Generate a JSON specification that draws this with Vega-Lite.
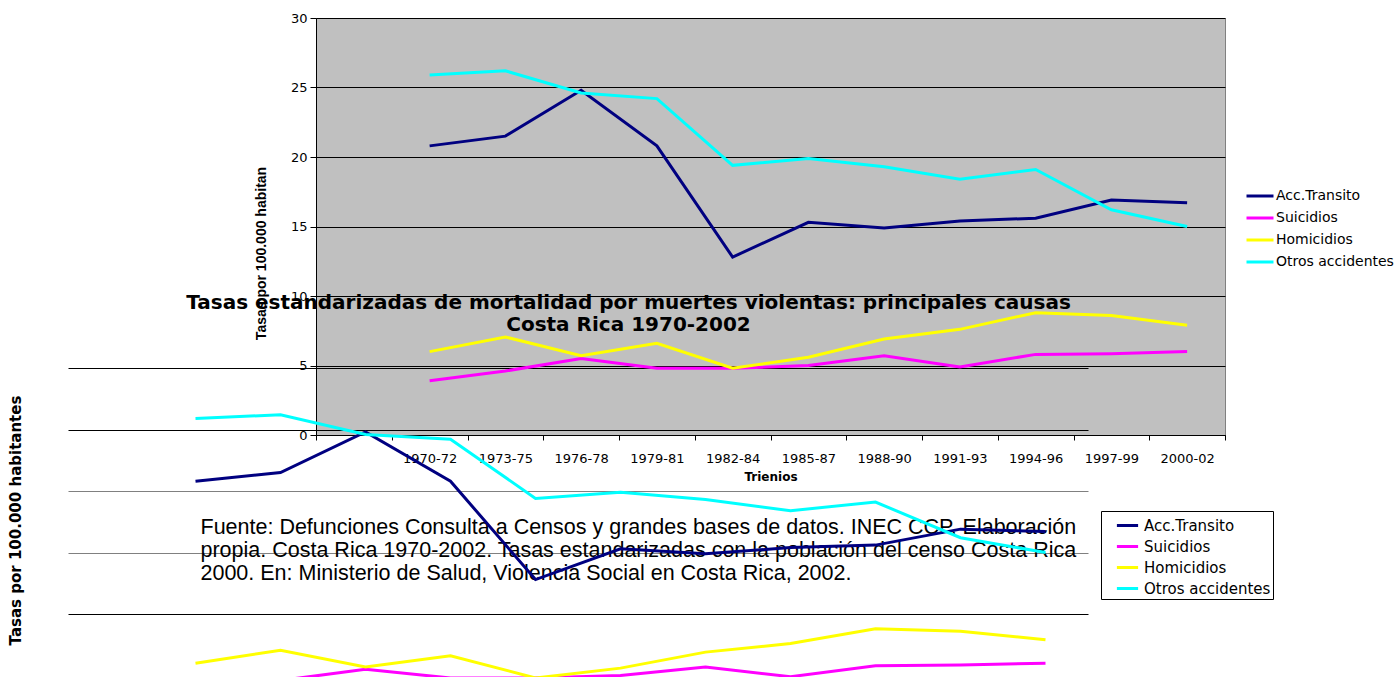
{
  "$schema": "https://vega.github.io/schema/vega-lite/v6.json",
  "width": 909,
  "height": 417,
  "autosize": {"type": "none"},
  "padding": {"left": 316, "top": 18, "right": 175, "bottom": 242},
  "background": "white",
  "title": {
    "text": ["Tasas estandarizadas de mortalidad por muertes violentas: principales causas", "Costa Rica 1970-2002"],
    "anchor": "middle",
    "frame": "group",
    "orient": "top",
    "dx": -142,
    "dy": 323,
    "offset": 0,
    "baseline": "top",
    "font": "DejaVu Sans",
    "fontSize": 20,
    "fontWeight": "bold",
    "lineHeight": 22,
    "color": "black"
  },
  "datasets": {
    "tasas": [
      {"periodo": "1970-72", "causa": "Acc.Transito", "tasa": 20.8},
      {"periodo": "1973-75", "causa": "Acc.Transito", "tasa": 21.5},
      {"periodo": "1976-78", "causa": "Acc.Transito", "tasa": 24.8},
      {"periodo": "1979-81", "causa": "Acc.Transito", "tasa": 20.8},
      {"periodo": "1982-84", "causa": "Acc.Transito", "tasa": 12.8},
      {"periodo": "1985-87", "causa": "Acc.Transito", "tasa": 15.3},
      {"periodo": "1988-90", "causa": "Acc.Transito", "tasa": 14.9},
      {"periodo": "1991-93", "causa": "Acc.Transito", "tasa": 15.4},
      {"periodo": "1994-96", "causa": "Acc.Transito", "tasa": 15.6},
      {"periodo": "1997-99", "causa": "Acc.Transito", "tasa": 16.9},
      {"periodo": "2000-02", "causa": "Acc.Transito", "tasa": 16.7},
      {"periodo": "1970-72", "causa": "Suicidios", "tasa": 3.9},
      {"periodo": "1973-75", "causa": "Suicidios", "tasa": 4.6},
      {"periodo": "1976-78", "causa": "Suicidios", "tasa": 5.5},
      {"periodo": "1979-81", "causa": "Suicidios", "tasa": 4.8},
      {"periodo": "1982-84", "causa": "Suicidios", "tasa": 4.8},
      {"periodo": "1985-87", "causa": "Suicidios", "tasa": 5.0},
      {"periodo": "1988-90", "causa": "Suicidios", "tasa": 5.7},
      {"periodo": "1991-93", "causa": "Suicidios", "tasa": 4.9},
      {"periodo": "1994-96", "causa": "Suicidios", "tasa": 5.8},
      {"periodo": "1997-99", "causa": "Suicidios", "tasa": 5.85},
      {"periodo": "2000-02", "causa": "Suicidios", "tasa": 6.0},
      {"periodo": "1970-72", "causa": "Homicidios", "tasa": 6.0},
      {"periodo": "1973-75", "causa": "Homicidios", "tasa": 7.05},
      {"periodo": "1976-78", "causa": "Homicidios", "tasa": 5.7},
      {"periodo": "1979-81", "causa": "Homicidios", "tasa": 6.6},
      {"periodo": "1982-84", "causa": "Homicidios", "tasa": 4.8},
      {"periodo": "1985-87", "causa": "Homicidios", "tasa": 5.6},
      {"periodo": "1988-90", "causa": "Homicidios", "tasa": 6.9},
      {"periodo": "1991-93", "causa": "Homicidios", "tasa": 7.6},
      {"periodo": "1994-96", "causa": "Homicidios", "tasa": 8.8},
      {"periodo": "1997-99", "causa": "Homicidios", "tasa": 8.6},
      {"periodo": "2000-02", "causa": "Homicidios", "tasa": 7.9},
      {"periodo": "1970-72", "causa": "Otros accidentes", "tasa": 25.9},
      {"periodo": "1973-75", "causa": "Otros accidentes", "tasa": 26.2},
      {"periodo": "1976-78", "causa": "Otros accidentes", "tasa": 24.6},
      {"periodo": "1979-81", "causa": "Otros accidentes", "tasa": 24.2},
      {"periodo": "1982-84", "causa": "Otros accidentes", "tasa": 19.4},
      {"periodo": "1985-87", "causa": "Otros accidentes", "tasa": 19.9},
      {"periodo": "1988-90", "causa": "Otros accidentes", "tasa": 19.3},
      {"periodo": "1991-93", "causa": "Otros accidentes", "tasa": 18.4},
      {"periodo": "1994-96", "causa": "Otros accidentes", "tasa": 19.1},
      {"periodo": "1997-99", "causa": "Otros accidentes", "tasa": 16.2},
      {"periodo": "2000-02", "causa": "Otros accidentes", "tasa": 15.0}
    ]
  },
  "data": {"name": "tasas"},
  "layer": [
    {
      "mark": {"type": "line", "strokeWidth": 3},
      "encoding": {
        "x": {
          "field": "periodo",
          "type": "nominal",
          "bandPosition": 0.5,
          "scale": {
            "type": "band",
            "domain": [" ", "1970-72", "1973-75", "1976-78", "1979-81", "1982-84", "1985-87", "1988-90", "1991-93", "1994-96", "1997-99", "2000-02"],
            "paddingInner": 0,
            "paddingOuter": 0
          },
          "axis": {
            "orient": "bottom",
            "tickBand": "extent",
            "labelAngle": 0,
            "labelPadding": 12,
            "tickSize": 5,
            "tickColor": "black",
            "domainColor": "black",
            "labelColor": "black",
            "labelFont": "DejaVu Sans",
            "labelFontSize": 13,
            "grid": false,
            "title": "Trienios",
            "titleFont": "DejaVu Sans",
            "titleFontSize": 12,
            "titleFontWeight": "bold",
            "titleColor": "black",
            "titlePadding": 6
          }
        },
        "y": {
          "field": "tasa",
          "type": "quantitative",
          "scale": {"domain": [0, 30]},
          "axis": {
            "values": [0, 5, 10, 15, 20, 25, 30],
            "grid": true,
            "gridColor": "black",
            "gridOpacity": 1,
            "gridWidth": 1,
            "tickSize": 6,
            "tickColor": "black",
            "domainColor": "black",
            "labelColor": "black",
            "labelFont": "DejaVu Sans",
            "labelFontSize": 13,
            "labelPadding": 3,
            "title": "Tasas por 100.000 habitan",
            "titleFont": "Liberation Sans",
            "titleFontSize": 14,
            "titleFontWeight": "bold",
            "titleColor": "black",
            "titleX": -48,
            "titleY": 235,
            "titleAngle": -90,
            "titleAlign": "center",
            "titleBaseline": "bottom"
          }
        },
        "color": {
          "field": "causa",
          "type": "nominal",
          "scale": {
            "domain": ["Acc.Transito", "Suicidios", "Homicidios", "Otros accidentes"],
            "range": ["#000080", "#FF00FF", "#FFFF00", "#00FFFF"]
          },
          "legend": {
            "orient": "none",
            "legendX": 929,
            "legendY": 163,
            "title": null,
            "padding": 0,
            "symbolType": "stroke",
            "symbolSize": 729,
            "symbolStrokeWidth": 3,
            "labelFont": "DejaVu Sans",
            "labelFontSize": 14,
            "labelColor": "black",
            "labelOffset": 1,
            "labelLimit": 300,
            "rowPadding": 0
          }
        }
      }
    },
    {
      "mark": {"type": "line", "strokeWidth": 3},
      "encoding": {
        "x": {
          "field": "periodo",
          "type": "nominal",
          "bandPosition": 0.5,
          "scale": {
            "type": "band",
            "domain": [" ", "1970-72", "1973-75", "1976-78", "1979-81", "1982-84", "1985-87", "1988-90", "1991-93", "1994-96", "1997-99", "2000-02"],
            "range": [-248, 772],
            "paddingInner": 0,
            "paddingOuter": 0
          },
          "axis": {
            "orient": "bottom",
            "labels": false,
            "ticks": false,
            "domain": false,
            "grid": false,
            "title": ["Fuente: Defunciones Consulta a Censos y grandes bases de datos. INEC CCP. Elaboración", "propia. Costa Rica 1970-2002.  Tasas estandarizadas con la población del censo Costa Rica", "2000.  En: Ministerio de Salud, Violencia Social en Costa Rica, 2002."],
            "titleX": -116,
            "titleY": 98,
            "titleAlign": "left",
            "titleBaseline": "alphabetic",
            "titleFont": "Liberation Sans",
            "titleFontSize": 21.5,
            "titleFontWeight": "normal",
            "titleLineHeight": 23,
            "titleColor": "black"
          }
        },
        "y": {
          "field": "tasa",
          "type": "quantitative",
          "scale": {"domain": [0, 30], "range": [719, 350]},
          "axis": {
            "orient": "left",
            "values": [30, 25, 20, 15, 10],
            "grid": true,
            "gridColor": {"condition": {"test": "datum.value == 20 || datum.value == 15", "value": "#808080"}, "value": "#000000"},
            "gridOpacity": 1,
            "gridWidth": 1,
            "labels": false,
            "ticks": false,
            "domain": false,
            "title": "Tasas por 100.000 habitantes",
            "titleX": -301,
            "titleY": 502,
            "titleAngle": -90,
            "titleAlign": "center",
            "titleBaseline": "middle",
            "titleFont": "DejaVu Sans",
            "titleFontSize": 15,
            "titleFontWeight": "bold",
            "titleColor": "black"
          }
        },
        "color": {
          "field": "causa",
          "type": "nominal",
          "scale": {
            "domain": ["Acc.Transito", "Suicidios", "Homicidios", "Otros accidentes"],
            "range": ["#000080", "#FF00FF", "#FFFF00", "#00FFFF"]
          },
          "legend": {
            "orient": "none",
            "legendX": 785,
            "legendY": 493,
            "title": null,
            "padding": 2,
            "strokeColor": "black",
            "fillColor": "white",
            "symbolType": "stroke",
            "symbolSize": 450,
            "symbolStrokeWidth": 3,
            "symbolOffset": 12,
            "labelFont": "DejaVu Sans",
            "labelFontSize": 15,
            "labelColor": "black",
            "labelOffset": 4,
            "labelLimit": 300,
            "rowPadding": 0
          }
        }
      }
    }
  ],
  "resolve": {
    "scale": {"x": "independent", "y": "independent", "color": "independent"},
    "axis": {"x": "independent", "y": "independent"},
    "legend": {"color": "independent"}
  },
  "config": {
    "view": {"fill": "#C0C0C0", "stroke": "#808080"},
    "font": "Liberation Sans"
  }
}
